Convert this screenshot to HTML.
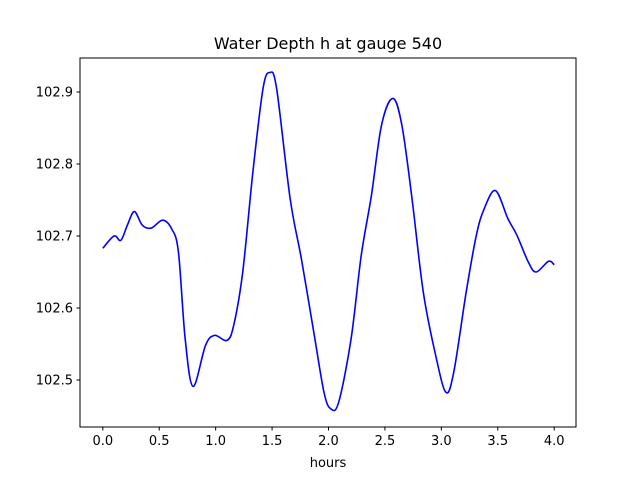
<!DOCTYPE html>
<html><head><meta charset="utf-8"><style>
body{margin:0;background:#fff;}
text{font-family:"DejaVu Sans","Liberation Sans",sans-serif;fill:#000;}
</style></head><body>
<svg id="chart" width="640" height="480" xmlns="http://www.w3.org/2000/svg">
<rect x="0" y="0" width="640" height="480" fill="#fff"/>
<text x="328" y="49" text-anchor="middle" font-size="16">Water Depth h at gauge 540</text>
<g id="plot"></g>
<rect x="80" y="58" width="496" height="369" fill="none" stroke="#000" stroke-width="1"/>
<text x="328" y="467" text-anchor="middle" font-size="13">hours</text>
</svg>
<script>
const hours=[0,0.1,0.16,0.22,0.28,0.35,0.43,0.53,0.61,0.67,0.73,0.80,0.91,0.99,1.10,1.16,1.24,1.33,1.42,1.48,1.54,1.66,1.76,1.87,1.96,2.02,2.09,2.20,2.29,2.38,2.47,2.57,2.65,2.74,2.84,2.95,3.04,3.11,3.22,3.31,3.38,3.48,3.59,3.67,3.77,3.84,3.95,4.0];
const depth=[102.683,102.700,102.694,102.716,102.734,102.715,102.711,102.722,102.710,102.678,102.557,102.491,102.548,102.562,102.555,102.576,102.650,102.789,102.905,102.927,102.905,102.752,102.668,102.566,102.483,102.460,102.469,102.557,102.673,102.756,102.854,102.891,102.854,102.752,102.622,102.534,102.483,102.511,102.622,102.701,102.738,102.763,102.724,102.701,102.664,102.650,102.665,102.660];
const xTicks=[0,0.5,1,1.5,2,2.5,3,3.5,4];
const xTickLabels=["0.0","0.5","1.0","1.5","2.0","2.5","3.0","3.5","4.0"];
const yTicks=[102.5,102.6,102.7,102.8,102.9];
const yTickLabels=["102.5","102.6","102.7","102.8","102.9"];
const X=t=>102.8+t*(554.2-102.8)/4;
const Y=v=>92+(102.9-v)*720;
const NS="http://www.w3.org/2000/svg";
const g=document.getElementById('plot');
function mk(tag,at){const e=document.createElementNS(NS,tag);for(const k in at)e.setAttribute(k,at[k]);g.appendChild(e);return e;}
xTicks.forEach((t,i)=>{
 const l=mk('line',{x1:X(t),x2:X(t),y1:427,y2:430.5,stroke:'#000'});
 
 
 const tx=mk('text',{x:X(t),y:445,'text-anchor':'middle','font-size':'13'});
 tx.textContent=xTickLabels[i];
 
 
});
yTicks.forEach((v,i)=>{
 const l=mk('line',{x1:76.5,x2:80,y1:Y(v),y2:Y(v),stroke:'#000'});
 
 
 const tx=mk('text',{x:73,y:Y(v)+4.5,'text-anchor':'end','font-size':'13'});
 tx.textContent=yTickLabels[i];
 
 
});
const P=hours.map((t,i)=>[X(t),Y(depth[i])]);
let d='M'+P[0][0]+','+P[0][1];
for(let i=0;i<P.length-1;i++){
 const p0=P[Math.max(0,i-1)],p1=P[i],p2=P[i+1],p3=P[Math.min(P.length-1,i+2)];
 const c1=[p1[0]+(p2[0]-p0[0])/6,p1[1]+(p2[1]-p0[1])/6];
 const c2=[p2[0]-(p3[0]-p1[0])/6,p2[1]-(p3[1]-p1[1])/6];
 d+=` C${c1[0]},${c1[1]} ${c2[0]},${c2[1]} ${p2[0]},${p2[1]}`;
}
const path=mk('path',{d:d,fill:'none',stroke:'#0000ff','stroke-width':'1.6'});


</script>
</body></html>
